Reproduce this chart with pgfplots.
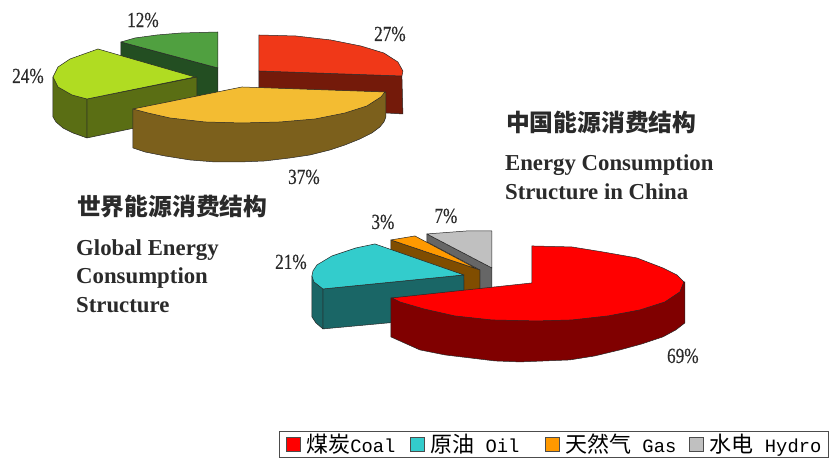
\documentclass[border=0pt]{standalone}
\usepackage{fontspec}
\setmainfont{Liberation Serif}
\setmonofont{Liberation Mono}
\newfontfamily\cjk{Noto Sans CJK SC}
\newfontfamily\pctf{Liberation Serif}[FakeStretch=0.8, FakeBold=0.4]
\usepackage{pgfplots}
\pgfplotsset{compat=1.18}
\definecolor{r1}{HTML}{F03818}\definecolor{r1s}{HTML}{741A0A}
\definecolor{y1}{HTML}{F3BC32}\definecolor{y1s}{HTML}{7C601C}
\definecolor{l1}{HTML}{B0DC22}\definecolor{l1s}{HTML}{5A6E14}
\definecolor{g1}{HTML}{50A040}\definecolor{g1s}{HTML}{234E22}
\definecolor{r2}{HTML}{FF0000}\definecolor{r2s}{HTML}{800000}
\definecolor{c2}{HTML}{33CCCC}\definecolor{c2s}{HTML}{1A6666}
\definecolor{o2}{HTML}{FF9900}\definecolor{o2s}{HTML}{804D00}
\definecolor{h2}{HTML}{C0C0C0}\definecolor{h2s}{HTML}{666666}
\definecolor{ink}{HTML}{2A2A2A}
\newcommand{\lgd}[3]{\makebox[#1pt][l]{\fontsize{18.8}{20}\selectfont{\cjk\fontsize{22}{23}\selectfont #2}\ttfamily #3}}
\tikzset{
  pct/.style={font=\pctf\fontsize{21.5}{22}\selectfont, text=ink, inner sep=0pt},
  ttl/.style={font=\cjk\bfseries\fontsize{23.8}{26}\selectfont, text=ink, inner sep=0pt, anchor=west},
  eng/.style={font=\bfseries\fontsize{22.8}{25}\selectfont, text=ink, inner sep=0pt, anchor=west},
}
\pgfplotsset{pie/.style={draw=black!85, line width=.5pt, no marks, forget plot, line join=round}}
\begin{document}
\begin{tikzpicture}
\begin{axis}[
  scale only axis, width=829pt, height=460pt,
  xmin=0, xmax=829, ymin=0, ymax=460, y dir=reverse,
  hide axis, clip=false,
  legend columns=4,
  legend cell align=left,
  legend style={at={(axis cs:279,431)}, anchor=north west, draw=black!70, line width=.7pt,
    inner xsep=0pt, inner ysep=2pt, column sep=0pt, fill=white,
    nodes={inner sep=1pt, anchor=west}},
  legend image code/.code={\path[draw=none, fill=none] (0pt,0pt) -- (26pt,0pt);\draw[#1] (7pt,-7pt) rectangle (21pt,7pt);},
]
% ---- legend entries
\addlegendimage{fill=r2, draw=black!70}\addlegendentry{\lgd{96}{煤炭}{Coal}}
\addlegendimage{fill=c2, draw=black!70}\addlegendentry{\lgd{107}{原油}{ Oil}}
\addlegendimage{fill=o2, draw=black!70}\addlegendentry{\lgd{116.5}{天然气}{ Gas}}
\addlegendimage{fill=h2, draw=black!70}\addlegendentry{\lgd{118}{水电}{ Hydro}}
\path (axis cs:0,0) rectangle (axis cs:829,460);
% ---- global pie: red side and top
\addplot[pie, fill=r1s] coordinates {(259,71)(402,76)(403,114)(386,113)(259,110)} --cycle;
\addplot[pie, fill=r1] coordinates {(259,35)(296,36)(331,40)(361,46)(384,53)(398,62)(403,71)(402,76)(259,71)} --cycle;
% green
\addplot[pie, fill=g1s] coordinates {(121,42)(218,68)(218,100)(121,100)} --cycle;
\addplot[pie, fill=g1] coordinates {(218,32)(181,33)(157,35)(135,38)(121,42)(218,68)} --cycle;
% lime
\addplot[pie, fill=l1s] coordinates {(87,99)(87,138)(197,115)(197,77)} --cycle;
\addplot[pie, fill=l1s] coordinates {(53,77)(53,117)(56,122)(63,128)(73,133)(87,138)(87,99)(72,94)(60,87)} --cycle;
\addplot[pie, fill=l1] coordinates {(98,49)(84,54)(70,59)(58,67)(53,77)(58,87)(72,95)(87,99)(195,77)} --cycle;
% yellow
\addplot[pie, fill=y1s] coordinates {(133,109)(133,148)(145,152)(165,156)(190,160)(215,162)(240,162)(265,161)(290,158)(310,155)(330,150)(345,145)(360,139)(372,133)(380,127)(384,122)(386,117)(386,92)(240,100)} --cycle;
\addplot[pie, fill=y1] coordinates {(242,87)(385,92)(381,97)(367,106)(345,113)(315,119)(280,122)(242,123)(205,122)(170,118)(148,113)(133,109)} --cycle;
% ---- China pie: hydro
\addplot[pie, fill=h2s] coordinates {(427,234)(492,268)(492,296)(480,296)(480,270)(427,242)} --cycle;
\addplot[pie, fill=h2] coordinates {(427,234)(467,231)(492,231)(492,268)} --cycle;
% gas
\addplot[pie, fill=o2s] coordinates {(391,240)(480,270)(480,296)(464,296)(464,280)(391,250)} --cycle;
\addplot[pie, fill=o2] coordinates {(391,240)(415,236)(477,269)} --cycle;
% oil
\addplot[pie, fill=c2s] coordinates {(323,289)(323,329)(464,316)(464,275)} --cycle;
\addplot[pie, fill=c2s] coordinates {(312,276)(312,317)(316,323)(323,329)(323,289)(318,283)} --cycle;
\addplot[pie, fill=c2] coordinates {(375,244)(356,248)(332,256)(317,265)(313,271)(312,276)(314,282)(323,289)(464,275)} --cycle;
% coal
\addplot[pie, fill=r2s] coordinates {(391,298)(391,337)(420,350)(445,355)(470,358)(495,361)(520,362)(545,361)(570,360)(595,356)(620,350)(642,344)(663,337)(676,330)(685,323)(685,282)(532,300)} --cycle;
\addplot[pie, fill=r2] coordinates {(532,246)(572,247)(603,252)(637,258)(663,268)(677,275)(684,282)(680,292)(665,302)(640,310)(608,316)(572,320)(537,321)(492,320)(455,316)(424,309)(400,302)(392,298)(532,283)} --cycle;
% ---- percentage labels
\node[pct] at (axis cs:390,34) {27\%};
\node[pct] at (axis cs:143,20) {12\%};
\node[pct] at (axis cs:28,76) {24\%};
\node[pct] at (axis cs:304,177) {37\%};
\node[pct] at (axis cs:683,356) {69\%};
\node[pct] at (axis cs:291,262) {21\%};
\node[pct] at (axis cs:383,222) {3\%};
\node[pct] at (axis cs:446,216) {7\%};
% ---- titles
\node[ttl] at (axis cs:506,122) {中国能源消费结构};
\node[eng] at (axis cs:505,165) {Energy Consumption};
\node[eng] at (axis cs:505,192) {Structure in China};
\node[ttl] at (axis cs:77,207) {世界能源消费结构};
\node[eng] at (axis cs:76,250) {Global Energy};
\node[eng] at (axis cs:76,278) {Consumption};
\node[eng] at (axis cs:76,305) {Structure};
\end{axis}
\end{tikzpicture}
\end{document}
